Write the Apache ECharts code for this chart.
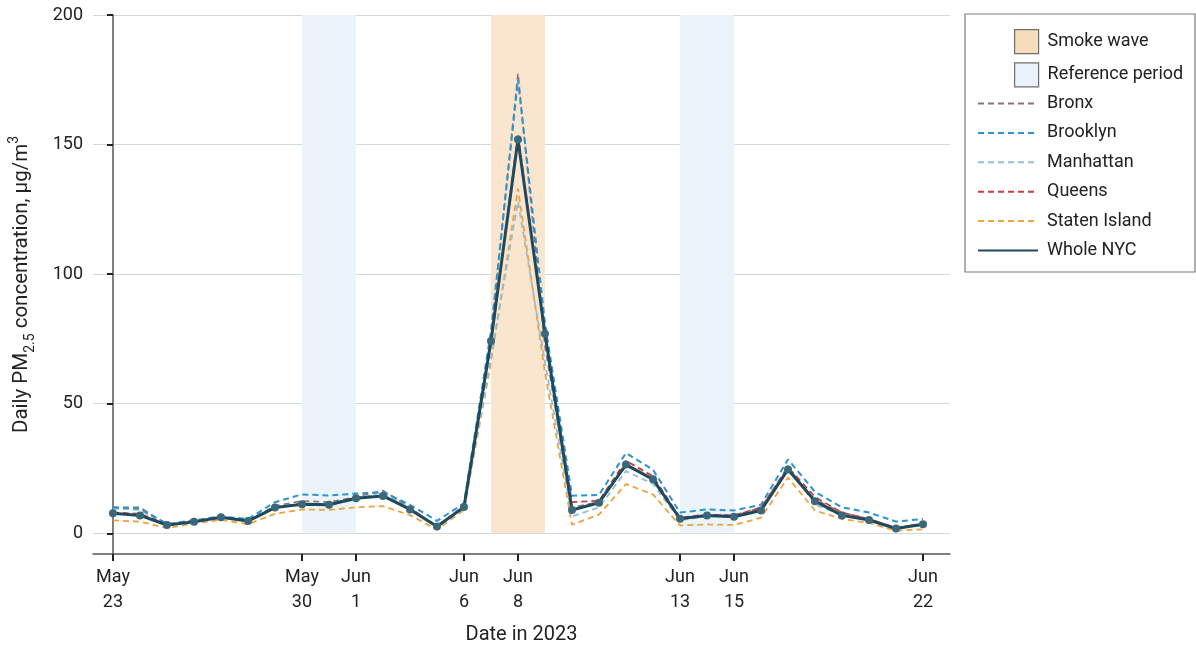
<!DOCTYPE html>
<html>
<head>
<meta charset="utf-8">
<script src="https://cdn.jsdelivr.net/npm/echarts@6/dist/echarts.min.js"></script>
<style>
  html, body { margin: 0; padding: 0; background: #ffffff; }
  #chart { width: 1196px; height: 648px; }
</style>
</head>
<body>
<div id="chart"></div>
<script>
// Days since May 23, 2023 (one point per day)
const dayIndex = [0, 1, 2, 3, 4, 5, 6, 7, 8, 9, 10, 11, 12, 13, 14, 15, 16, 17, 18, 19, 20, 21, 22, 23, 24, 25, 26, 27, 28, 29, 30];

// Labelled date ticks
const tickDays = [0, 7, 9, 13, 15, 21, 23, 30];
const tickLabels = ['May\n23', 'May\n30', 'Jun\n1', 'Jun\n6', 'Jun\n8', 'Jun\n13', 'Jun\n15', 'Jun\n22'];
const yTicks = [0, 50, 100, 150, 200];

// Shaded periods [startDay, endDay]
const smokeWave = [[14, 16]];
const referencePeriods = [[7, 9], [21, 23]];

// Daily PM2.5, µg/m3
const bronx        = [10, 10, 3.4, 4.8, 6.3, 5, 10.5, 12.5, 12, 14, 16.5, 10, 2.5, 10.5, 76, 177.5, 72, 10, 12, 26, 21, 6, 7, 7, 10, 25, 13, 8, 5.5, 2.2, 3.5];
const brooklyn     = [10, 9.5, 3.6, 5, 6.5, 5.5, 12, 15, 14.6, 15.3, 15.9, 11, 4.8, 11.5, 78, 175, 81, 14.5, 14.8, 31, 24.5, 8, 9.2, 8.8, 11, 28.5, 16, 10, 8, 4.5, 5.5];
const manhattan    = [9.5, 9, 3, 4.5, 6, 4.8, 10, 11, 11, 13, 16, 9.5, 2.2, 9.5, 68, 128, 66, 6.5, 10, 24, 19, 5, 6.5, 6.5, 9.5, 26, 11, 7, 5, 2, 3];
const queens       = [8, 7.5, 3.3, 4.6, 6.2, 4.8, 10, 11.5, 11.2, 13.8, 14.5, 9.5, 2.8, 10.5, 73, 154, 76, 12, 12.5, 28, 22, 6, 7.2, 6.8, 9.8, 25.5, 14, 8, 5.5, 2, 3.8];
const statenIsland = [5, 4.5, 2, 3.8, 5.2, 3.5, 7.5, 9.2, 9, 10, 10.5, 7, 1.4, 9, 66, 133, 62, 3.3, 7.2, 19, 15, 3, 3.4, 3.2, 6, 21.5, 8.8, 5.5, 4, 1, 1.5];
const wholeNYC     = [7.7, 6.9, 3.2, 4.4, 6.2, 4.7, 9.9, 11.2, 11.0, 13.5, 14.4, 9.2, 2.6, 10.1, 74.2, 152, 77, 9.0, 11.8, 26.5, 20.8, 5.6, 6.9, 6.4, 8.8, 24.6, 12.4, 6.9, 5.1, 1.8, 3.5];

const FONT = 'Roboto';
const TEXT = '#222222';

const toPoints = values => values.map((v, i) => [dayIndex[i], v]);

function boroughLine(name, values, color, width, z) {
  return {
    name: name,
    type: 'line',
    data: toPoints(values),
    symbol: 'none',
    silent: true,
    z: z,
    color: color,
    lineStyle: { color: color, width: width, type: [6, 4] }
  };
}

function bandSeries(name, periods, color, swatch) {
  return {
    name: name,
    type: 'line',
    data: [],
    color: swatch,
    silent: true,
    markArea: {
      silent: true,
      itemStyle: { color: color },
      data: periods.map(p => [{ xAxis: p[0], yAxis: 0 }, { xAxis: p[1], yAxis: 200 }])
    }
  };
}

const chart = echarts.init(document.getElementById('chart'), null, { renderer: 'canvas' });

chart.setOption({
  animation: false,
  backgroundColor: '#ffffff',
  textStyle: { fontFamily: FONT, color: TEXT },
  grid: { left: 93, right: 246, top: 15, bottom: 94, outerBoundsMode: 'none' },
  xAxis: {
    type: 'value',
    min: -0.74,
    max: 31,
    name: 'Date in 2023',
    nameLocation: 'middle',
    nameGap: 71,
    nameTextStyle: { fontSize: 20, color: TEXT, fontFamily: FONT },
    axisLine: { show: true, onZero: false, lineStyle: { color: '#555555', width: 1.5 } },
    axisTick: { show: true, customValues: tickDays, length: 7, lineStyle: { color: '#222222', width: 2 } },
    axisLabel: {
      customValues: tickDays,
      formatter: v => tickLabels[tickDays.indexOf(v)] || '',
      fontSize: 18, lineHeight: 25, color: TEXT, margin: 11, fontFamily: FONT
    },
    splitLine: { show: false }
  },
  yAxis: {
    type: 'value',
    min: -8,
    max: 200,
    name: '{a|Daily PM}{sub|2.5}{a| concentration, μg/m}{sup|3}',
    nameLocation: 'middle',
    nameRotate: 90,
    nameGap: 56,
    nameTextStyle: {
      fontFamily: FONT,
      color: TEXT,
      rich: {
        a: { fontSize: 20.5, lineHeight: 30, color: TEXT, fontFamily: FONT },
        sub: { fontSize: 14, lineHeight: 14, verticalAlign: 'bottom', color: TEXT, fontFamily: FONT },
        sup: { fontSize: 14, lineHeight: 14, verticalAlign: 'top', color: TEXT, fontFamily: FONT }
      }
    },
    axisLine: { show: true, lineStyle: { color: '#555555', width: 1.5 } },
    axisTick: { show: true, customValues: yTicks, length: 6, lineStyle: { color: '#222222', width: 2 } },
    axisLabel: { customValues: yTicks, fontSize: 18, color: TEXT, margin: 10, fontFamily: FONT },
    splitLine: { show: true, lineStyle: { color: '#d3d8de', width: 1.2 } }
  },
  legend: [
    {
      orient: 'vertical',
      left: 1014,
      top: 29,
      padding: 0,
      itemWidth: 24,
      itemHeight: 24,
      itemGap: 8,
      selectedMode: false,
      itemStyle: { borderColor: '#6e6e6e', borderWidth: 1.2 },
      textStyle: { fontSize: 18, color: TEXT, fontFamily: FONT, padding: [0, 0, 0, 4] },
      data: [
        { name: 'Smoke wave', icon: 'rect' },
        { name: 'Reference period', icon: 'rect' }
      ]
    },
    {
      orient: 'vertical',
      left: 977,
      top: 94.5,
      padding: 0,
      itemWidth: 60,
      itemHeight: 16,
      itemGap: 11.4,
      selectedMode: false,
      itemStyle: { opacity: 0 },
      textStyle: { fontSize: 18, color: TEXT, fontFamily: FONT, padding: [0, 0, 0, 4] },
      data: ['Bronx', 'Brooklyn', 'Manhattan', 'Queens', 'Staten Island', 'Whole NYC']
    }
  ],
  graphic: [
    {
      type: 'rect',
      silent: true,
      shape: { x: 965, y: 14, width: 230, height: 258 },
      style: { fill: 'none', stroke: '#7a7a7a', lineWidth: 1.2 }
    }
  ],
  series: [
    bandSeries('Smoke wave', smokeWave, '#fae6cf', '#f8ddbd'),
    bandSeries('Reference period', referencePeriods, '#ebf4fb', '#eaf3fb'),
    boroughLine('Staten Island', statenIsland, '#f0a23e', 1.8, 3),
    boroughLine('Manhattan', manhattan, '#93bfd3', 1.8, 3),
    boroughLine('Bronx', bronx, '#8d7272', 1.6, 3),
    boroughLine('Queens', queens, '#cc3b3d', 1.8, 3),
    boroughLine('Brooklyn', brooklyn, '#2b93d2', 2, 4),
    {
      name: 'Whole NYC',
      type: 'line',
      data: toPoints(wholeNYC),
      silent: true,
      z: 5,
      color: '#1f4a5e',
      symbol: 'circle',
      symbolSize: 8,
      itemStyle: { color: '#3b6879' },
      lineStyle: { color: '#1f4a5e', width: 3 }
    }
  ]
});
</script>
</body>
</html>
